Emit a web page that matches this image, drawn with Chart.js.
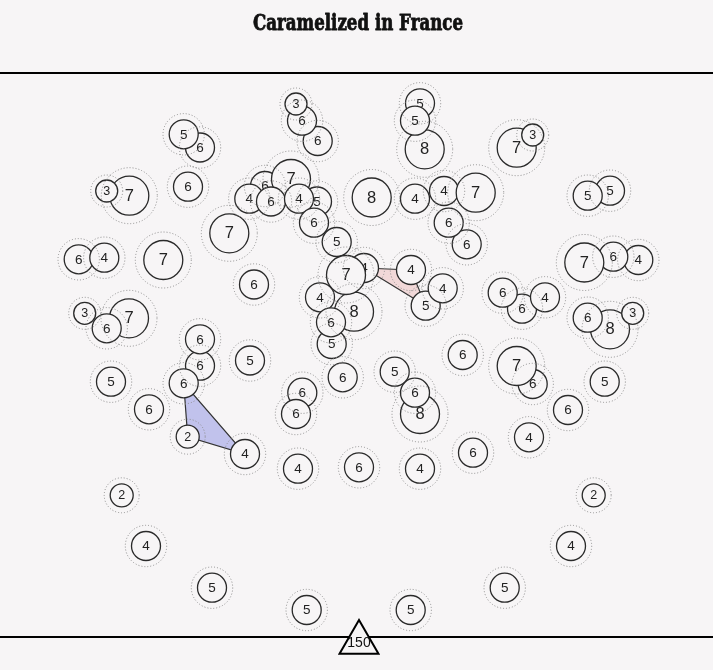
<!DOCTYPE html>
<html>
<head>
<meta charset="utf-8">
<script src="https://cdn.jsdelivr.net/npm/chart.js@4.4.1/dist/chart.umd.min.js"></script>
<style>
  html, body { margin: 0; padding: 0; background: #f7f5f6; }
  canvas { display: block; }
</style>
</head>
<body>
<canvas id="c" width="713" height="670"></canvas>
<script>
// ---- data, listed in drawing order ----
const nodeValues = [6,5,7,3,6,6,4,7,7,7,6,3,6,6,6,5,6,2,4,5,6,
  6,6,3,6,7,4,6,5,4,6,5,8,5,8,5,4,4,7,6,6,
  7,3,5,5,4,6,7,6,6,4,8,6,3,6,7,5,6,4,
  4,4,8,7,5,6,4,5,4,6,6,5,8,6,6,6,
  4,6,4,6,2,2,4,4,5,5,5,5];
const nodeX = [200,183.7,129.3,106.7,188,78.7,104.3,163.3,229.3,129,106.7,84.7,200,200,183.7,111,149,187.7,245,250,254,
  317.7,302,296,265,291,249.3,271,317,299,314,336.7,371.7,420,424.7,415,415,444,475.7,466.7,448.7,
  516.7,532.7,610,587.7,638.3,613.3,584.3,522,502.7,545,610,587.7,632.7,532.7,516.7,604.7,568,529,
  364,320,354,346,331.7,331,411,425.7,442.7,462.7,342.7,394.7,420,415,302.3,296,
  298,359,420,473,121.7,593.7,146,571,212,504.7,306.7,410.7];
const nodeY = [147.5,134.3,195.7,191,186.7,259.3,257.7,260,233.3,318.3,328.3,313.3,365.7,339.3,383.3,381.7,409.3,436.7,454,360.5,284.5,
  141,120.7,104,186,179,198.7,201.5,201.5,198.7,222.7,242,197.5,103.3,149.3,120.7,198.7,191,192.7,244.3,222.7,
  147.7,135,190.7,195.7,260,256.7,262.5,308.7,292.7,297.3,329.3,317.7,313.3,384,366,381.7,410,437.3,
  268,297.3,311.7,275,344,322.3,270,305.7,288.3,355,377.3,371.7,414,392.7,392.7,414,
  468.7,467.3,468.7,452.7,495.3,495.3,546,546,587.7,587.7,610,610];
// triangles connecting nodes (indices into the arrays above)
const polygons = [
  { nodes: [14, 17, 18], fill: 'rgba(190,191,235,0.95)' },
  { nodes: [59, 65, 66], fill: 'rgba(240,214,214,0.95)' }
];
const markerValues = [150];
const markerX = [359];
const markerY = [642.5];
const titleText = 'Caramelized in France';

// ---- styles ----
const BG = '#f7f5f6';
const innerR = v => v >= 7 ? 19.5 : (v >= 4 ? 14.5 : (v === 3 ? 11 : 11.5));
const haloR = v => v >= 7 ? 28 : (v >= 4 ? 20.7 : (v === 3 ? 16 : 17.5));
const labelSize = v => v >= 7 ? 16.5 : (v >= 4 ? 13.5 : 12.5);
const FONT = '"Liberation Sans", Arial, sans-serif';

const nodes = nodeValues.map((v, i) => ({ x: nodeX[i], y: nodeY[i], r: innerR(v) }));
const halos = nodeValues.map((v, i) => ({ x: nodeX[i], y: nodeY[i], r: haloR(v) }));
const markers = markerValues.map((v, i) => ({ x: markerX[i], y: markerY[i], r: 22.5 }));

const decor = {
  id: 'decor',
  beforeDatasetsDraw(chart) {
    const { ctx, chartArea, scales: { x, y } } = chart;
    ctx.save();
    ctx.strokeStyle = '#000';
    ctx.lineWidth = 2;
    [chartArea.top, chartArea.bottom].forEach(py => {
      ctx.beginPath(); ctx.moveTo(0, py); ctx.lineTo(chart.width, py); ctx.stroke();
    });
    polygons.forEach(p => {
      ctx.beginPath();
      p.nodes.forEach((n, k) => {
        const px = x.getPixelForValue(nodeX[n]), py = y.getPixelForValue(nodeY[n]);
        if (k === 0) ctx.moveTo(px, py); else ctx.lineTo(px, py);
      });
      ctx.closePath();
      ctx.fillStyle = p.fill;
      ctx.fill();
      ctx.strokeStyle = '#333';
      ctx.lineWidth = 1.2;
      ctx.stroke();
    });
    ctx.restore();
  },
  beforeDatasetDraw(chart, args) {
    const ds = chart.data.datasets[args.index];
    const ctx = chart.ctx;
    if (ds.kind === 'halo') { ctx.save(); ctx.setLineDash([1, 2]); }
    if (ds.kind === 'node') {
      ctx.save();
      args.meta.data.forEach((el, i) => {
        el.draw(ctx, chart.chartArea);
        const v = nodeValues[i];
        ctx.fillStyle = '#222';
        ctx.font = labelSize(v) + 'px ' + FONT;
        ctx.textAlign = 'center';
        ctx.textBaseline = 'middle';
        ctx.fillText(String(v), el.x, el.y + 0.5);
      });
      ctx.restore();
      return false;
    }
  },
  afterDatasetDraw(chart, args) {
    const ds = chart.data.datasets[args.index];
    const ctx = chart.ctx;
    if (ds.kind === 'halo') ctx.restore();
    if (ds.kind === 'marker') {
      ctx.save();
      ctx.fillStyle = '#111';
      ctx.font = '14px ' + FONT;
      ctx.textAlign = 'center';
      ctx.textBaseline = 'middle';
      args.meta.data.forEach((el, i) => ctx.fillText(String(markerValues[i]), el.x, el.y + 0.5));
      ctx.restore();
    }
  },
  afterDraw(chart) {
    // condensed heavy headline
    const ctx = chart.ctx;
    ctx.save();
    ctx.font = 'bold 23px "DejaVu Serif", serif';
    const w = ctx.measureText(titleText).width;
    const sx = 210 / w;
    ctx.translate(358, 24);
    ctx.scale(sx, 1);
    ctx.textAlign = 'center';
    ctx.textBaseline = 'middle';
    ctx.fillStyle = '#111';
    ctx.strokeStyle = '#111';
    ctx.lineWidth = 0.9;
    ctx.lineJoin = 'round';
    ctx.fillText(titleText, 0, 0);
    ctx.strokeText(titleText, 0, 0);
    ctx.restore();
  }
};

new Chart(document.getElementById('c'), {
  type: 'bubble',
  data: {
    datasets: [
      { kind: 'marker', data: markers, pointStyle: 'triangle', backgroundColor: BG, borderColor: '#000', borderWidth: 2, clip: false, order: 1 },
      { kind: 'halo', data: halos, backgroundColor: 'rgba(0,0,0,0)', borderColor: '#8c8c8c', borderWidth: 1, clip: false, order: 2 },
      { kind: 'node', data: nodes, backgroundColor: BG, borderColor: '#2a2a2a', borderWidth: 1.3, clip: false, order: 3 }
    ]
  },
  options: {
    responsive: false,
    animation: false,
    events: [],
    layout: { autoPadding: false, padding: { left: 0, right: 0, top: 73, bottom: 33 } },
    scales: {
      x: { type: 'linear', display: false, min: 0, max: 713 },
      y: { type: 'linear', display: false, min: 73, max: 637, reverse: true }
    },
    plugins: {
      legend: { display: false },
      tooltip: { enabled: false },
      title: { display: false, text: titleText }
    }
  },
  plugins: [decor]
});
</script>
</body>
</html>
